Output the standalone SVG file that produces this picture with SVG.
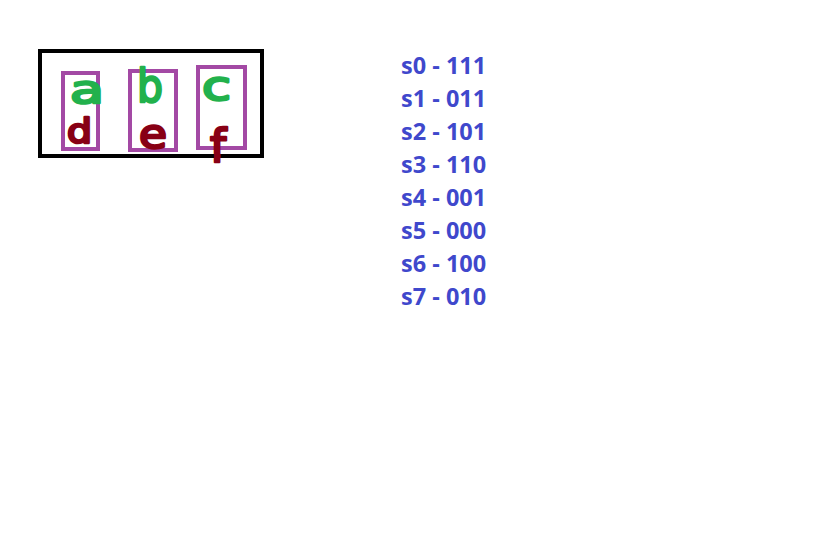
<svg xmlns="http://www.w3.org/2000/svg" width="815" height="556" viewBox="0 0 815 556">
<style>
.frame{fill:none;stroke:#000;stroke-width:4}
.cell{fill:none;stroke:#A349A4;stroke-width:4}
.hw{font-family:"DejaVu Sans","Liberation Sans",sans-serif;stroke-width:2.5;stroke-linejoin:round}
.g{fill:#22B14C;stroke:#22B14C}
.r{fill:#880015;stroke:#880015}
.lbl{font-family:"Open Sans","Liberation Sans",sans-serif;font-weight:bold;font-size:23.5px;fill:#3F48CC}
</style>
<rect width="815" height="556" fill="#fff"/>
<g id="frame"><rect class="frame" x="40" y="51" width="222" height="105"/></g>
<g id="cell1">
<rect class="cell" x="63" y="73" width="35" height="76"/>
<text class="hw g" x="70" y="103" font-size="38" textLength="34" lengthAdjust="spacingAndGlyphs">a</text>
<text class="hw r" x="67" y="143" font-size="33" textLength="25" lengthAdjust="spacingAndGlyphs">d</text>
</g>
<g id="cell2">
<rect class="cell" x="130" y="71" width="46" height="79"/>
<text class="hw g" x="137" y="102" font-size="46" textLength="26" lengthAdjust="spacingAndGlyphs">b</text>
<text class="hw r" x="139" y="148" font-size="40" textLength="28" lengthAdjust="spacingAndGlyphs">e</text>
</g>
<g id="cell3">
<rect class="cell" x="198" y="67" width="47" height="81"/>
<text class="hw g" x="202" y="100" font-size="40" textLength="29" lengthAdjust="spacingAndGlyphs">c</text>
<text class="hw r" x="210" y="162" font-size="46">f</text>
</g>
<g id="codes">
<text class="lbl" x="401" y="74">s0 - 111</text>
<text class="lbl" x="401" y="107">s1 - 011</text>
<text class="lbl" x="401" y="140">s2 - 101</text>
<text class="lbl" x="401" y="173">s3 - 110</text>
<text class="lbl" x="401" y="206">s4 - 001</text>
<text class="lbl" x="401" y="239">s5 - 000</text>
<text class="lbl" x="401" y="272">s6 - 100</text>
<text class="lbl" x="401" y="305">s7 - 010</text>
</g>
<g id="connectors"></g>
</svg>
